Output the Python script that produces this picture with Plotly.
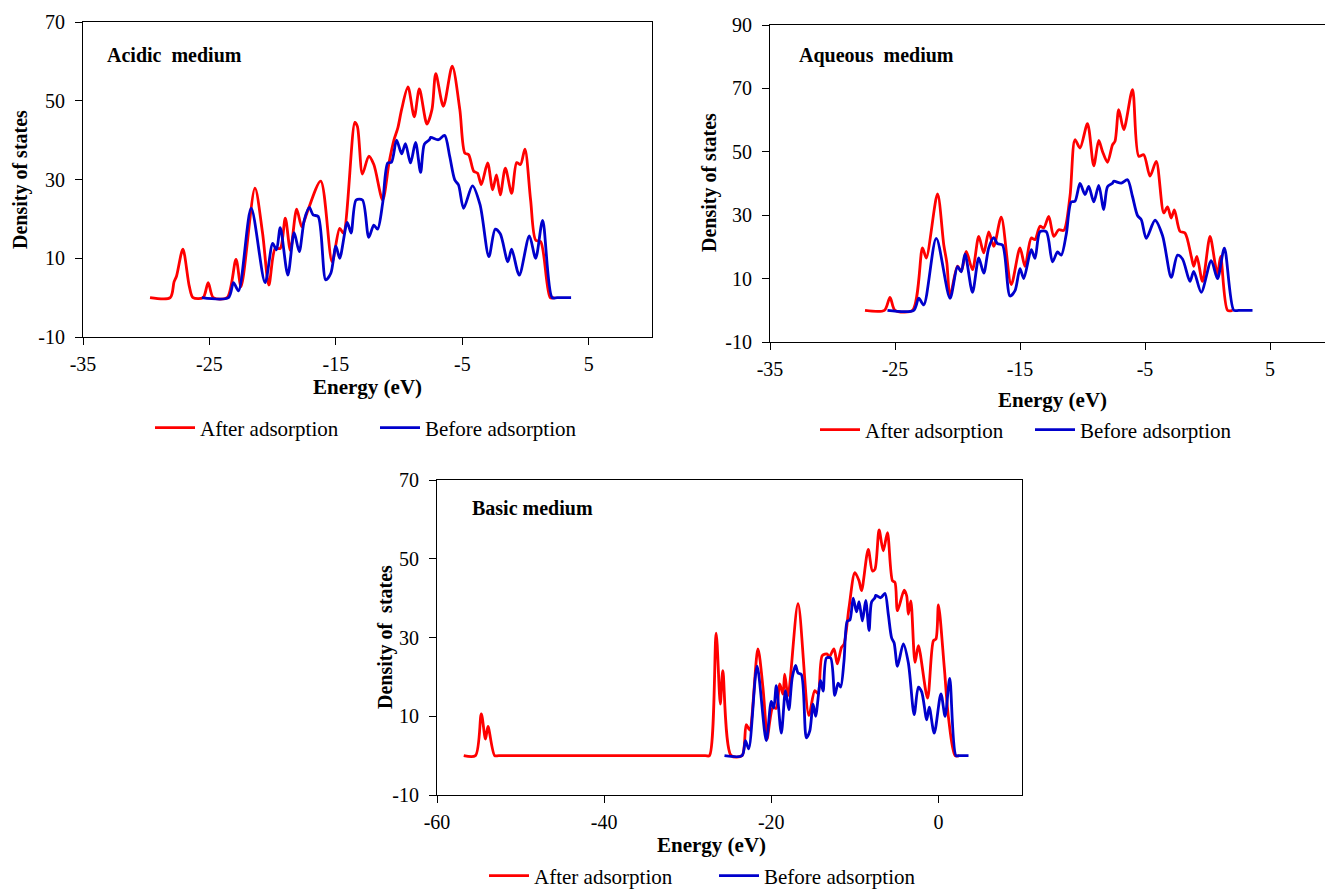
import plotly.graph_objects as go

# ---------------- data ----------------
# Before adsorption (same molecule in every panel)
before_x = [-25.6, -23.5, -23.1, -22.7, -21.7, -20.6, -20.0, -19.7, -19.4, -18.8,
            -18.3, -17.9, -17.5, -17.1, -16.8, -16.4, -15.8, -15.4, -15.0, -14.7,
            -14.1, -13.8, -13.4, -12.9, -12.4, -12.0, -11.7, -11.3, -10.9, -10.6,
            -10.2, -9.8, -9.5, -9.1, -8.7, -8.3, -8.0, -7.6, -7.5, -6.9,
            -6.4, -6.0, -5.6, -5.3, -4.9, -4.2, -3.6, -2.9, -2.4, -2.0,
            -1.4, -1.1, -0.5, 0.3, 0.8, 1.35, 2.1, 2.5, 3.6]
before_y = [0, 0, 3.8, 1.7, 22.7, 3.8, 13.8, 12.1, 17.8, 5.7,
            16.5, 11.7, 19.7, 22.9, 21.0, 20.6, 4.5, 6.2, 13.1, 10.0,
            19.1, 16.4, 24.8, 24.8, 15.3, 18.4, 17.4, 24.0, 34.2, 34.4,
            40.0, 36.5, 39.1, 34.2, 39.4, 31.8, 39.0, 40.1, 40.7, 40.1,
            41.2, 35.9, 29.9, 28.6, 22.7, 28.4, 23.6, 10.4, 17.4, 16.2,
            9.1, 12.3, 5.7, 15.7, 10.0, 19.6, 0, 0, 0]

# After adsorption - acidic medium
acid_x = [-29.7, -28.1, -27.8, -27.6, -27.1, -26.6, -26.3, -25.5, -25.1, -24.7,
          -23.6, -22.9, -22.5, -21.4, -20.8, -20.3, -19.8, -19.4, -19.0, -18.6,
          -18.1, -17.7, -17.3, -16.2, -15.3, -14.7, -14.4, -13.5, -13.3, -12.9,
          -12.4, -12.0, -11.3, -10.8, -10.4, -10.1, -9.8, -9.3, -8.8, -8.4,
          -7.8, -7.4, -7.1, -6.5, -5.8, -5.2, -4.8, -4.5, -4.1, -3.8,
          -3.5, -3.0, -2.6, -2.3, -2.0, -1.6, -1.1, -0.7, -0.4, -0.05,
          0.4, 0.8, 1.2, 1.95, 2.3]
acid_y = [0, 0, 4.0, 5.5, 12.3, 3.0, 0, 0, 3.8, 0,
          0, 9.7, 2.8, 27.8, 16.4, 3.2, 12.5, 12.5, 20.2, 12.0,
          22.5, 18.0, 21.4, 29.6, 9.1, 17.6, 16.4, 44.5, 43.5, 31.4,
          35.9, 33.8, 24.8, 34.2, 40.1, 43.1, 47.8, 53.5, 45.9, 53.0,
          44.1, 47.8, 56.9, 48.6, 58.8, 47.8, 36.7, 36.3, 32.1, 31.6,
          28.7, 34.2, 27.4, 31.2, 26.1, 32.9, 26.5, 34.3, 33.8, 37.7,
          24.8, 14.6, 14.2, 0, 0]

# After adsorption - aqueous medium
aq_x = [-27.4, -25.85, -25.4, -25.0, -23.6, -22.8, -22.5, -21.6, -21.1, -20.85,
        -20.6, -20.0, -19.7, -19.3, -18.8, -18.3, -17.9, -17.5, -17.1, -16.5,
        -15.7, -15.0, -14.6, -14.1, -13.8, -13.4, -13.1, -12.7, -12.3, -11.9,
        -11.5, -11.0, -10.6, -10.2, -9.6, -9.1, -8.7, -8.4, -8.0, -7.6,
        -7.4, -7.1, -6.7, -6.0, -5.5, -5.1, -4.6, -4.1, -3.5, -3.2,
        -2.9, -2.65, -2.2, -1.8, -1.3, -1.1, -0.85, -0.4, 0.2, 0.6,
        0.8, 1.05, 1.6, 2.0]
aq_y = [0, 0, 4.1, 0, 0, 19.7, 16.5, 36.7, 20.7, 14.9,
        4.4, 13.9, 12.3, 18.6, 12.8, 23.3, 18.1, 24.7, 20.2, 29.4,
        8.1, 19.7, 13.9, 22.8, 22.3, 26.5, 26.0, 29.6, 23.3, 25.4,
        25.2, 36.0, 53.8, 51.2, 58.9, 45.6, 53.6, 50.1, 46.7, 52.2,
        53.3, 63.3, 57.0, 69.6, 48.6, 49.1, 42.3, 47.0, 30.7, 32.6,
        29.1, 31.7, 24.9, 24.4, 17.0, 13.9, 17.0, 9.1, 23.3, 14.9,
        11.2, 17.0, 0, 0]

# After adsorption - basic medium
basic_x = [-56.8, -55.4, -54.7, -54.2, -53.9, -53.1, -52.6, -27.9, -27.4, -26.6,
           -26.1, -25.8, -24.8, -23.5, -23.0, -22.6, -21.6, -21.0, -20.6, -20.5,
           -19.8, -19.4, -19.0, -18.6, -18.4, -18.0, -16.8, -15.5, -14.8, -14.4,
           -13.9, -13.3, -13.1, -12.5, -12.1, -11.6, -11.3, -10.7, -10.0, -9.5,
           -9.2, -8.4, -7.9, -7.6, -7.1, -6.6, -6.1, -5.5, -5.2, -4.9,
           -4.1, -3.8, -3.6, -3.3, -2.8, -2.4, -1.3, -0.6, -0.3, 0.0,
           0.7, 1.2, 2.0, 2.5]
basic_y = [0, 0, 10.6, 4.2, 7.4, 0, 0, 0, 0, 31.1,
           13.1, 21.6, 0, 0, 7.9, 6.5, 27.1, 17.3, 6.3, 4.2,
           12.3, 12.0, 18.2, 15.6, 20.7, 15.2, 38.6, 10.2, 16.5, 15.8,
           25.4, 25.8, 24.9, 27.1, 23.3, 27.5, 28.3, 37.6, 46.5, 44.4,
           41.9, 52.4, 46.9, 47.3, 57.3, 52.0, 56.6, 44.4, 44.0, 36.8,
           42.0, 40.6, 35.9, 39.3, 23.7, 27.9, 14.6, 29.2, 29.6, 38.3,
           22.4, 9.7, 0, 0]

# tick values
x_ticks_top = [-35, -25, -15, -5, 5]
x_ticks_basic = [-60, -40, -20, 0]
y_ticks_70 = [-10, 10, 30, 50, 70]
y_ticks_90 = [-10, 10, 30, 50, 70, 90]

series_names = ["After adsorption", "Before adsorption"]
panel_titles = ["Acidic\u00a0 medium", "Aqueous\u00a0 medium", "Basic medium"]
y_titles = ["Density of states", "Density of states", "Density of\u00a0 states"]
x_title = "Energy (eV)"

# ---------------- styling / layout ----------------
W, H = 1325, 890
RED = "#FF0000"
BLUE = "#0000CC"
FONT = "Liberation Serif"


def px_x(p):
    return p / W


def px_y(p):
    return 1 - p / H


def lbl(v):
    return str(v)  # plain hyphen-minus like the original


panels = [
    dict(after=(acid_x, acid_y), xr=[-35, 10], xt=x_ticks_top, yr=[-10, 70], yt=y_ticks_70,
         dom_x=(83, 652), dom_y=(22, 337), leg=(150, 428), ew=170,
         ytit=(20, 180), xtit=(367, 387), lab=(105, 55)),
    dict(after=(aq_x, aq_y), xr=[-35, 9.4], xt=x_ticks_top, yr=[-10, 90], yt=y_ticks_90,
         dom_x=(770, 1325), dom_y=(25, 342), leg=(815, 430), ew=160,
         ytit=(710, 183), xtit=(1052, 400), lab=(797, 55)),
    dict(after=(basic_x, basic_y), xr=[-60, 10], xt=x_ticks_basic, yr=[-10, 70], yt=y_ticks_70,
         dom_x=(437, 1022), dom_y=(480, 795), leg=(484, 876), ew=175,
         ytit=(385, 637), xtit=(712, 845), lab=(470, 508)),
]

fig = go.Figure()
annotations = []
layout = {}
for i, p in enumerate(panels):
    k = "" if i == 0 else str(i + 1)
    legname = "legend" + k
    common = dict(showgrid=False, zeroline=False, showline=True, mirror=True,
                  linecolor="black", linewidth=1, ticks="outside", ticklen=7,
                  tickcolor="black", automargin=False, tickmode="array",
                  tickfont=dict(family=FONT, size=20, color="black"))
    layout["xaxis" + k] = dict(domain=[px_x(p["dom_x"][0]), px_x(p["dom_x"][1])],
                               range=p["xr"], tickvals=p["xt"],
                               ticktext=[lbl(v) for v in p["xt"]],
                               ticklabelstandoff=2, anchor="y" + k, **common)
    layout["yaxis" + k] = dict(domain=[px_y(p["dom_y"][1]), px_y(p["dom_y"][0])],
                               range=p["yr"], tickvals=p["yt"],
                               ticktext=[lbl(v) for v in p["yt"]],
                               ticklabelstandoff=6, anchor="x" + k, **common)
    fig.add_trace(go.Scatter(x=p["after"][0], y=p["after"][1], mode="lines",
                             name=series_names[0], xaxis="x" + k, yaxis="y" + k,
                             line=dict(color=RED, width=2.8, shape="spline", smoothing=0.8),
                             legend=legname))
    fig.add_trace(go.Scatter(x=before_x, y=before_y, mode="lines",
                             name=series_names[1], xaxis="x" + k, yaxis="y" + k,
                             line=dict(color=BLUE, width=2.8, shape="spline", smoothing=0.8),
                             legend=legname))
    layout[legname] = dict(orientation="h", x=px_x(p["leg"][0]), y=px_y(p["leg"][1]),
                           xanchor="left", yanchor="middle", bgcolor="rgba(0,0,0,0)",
                           font=dict(family=FONT, size=21, color="black"),
                           entrywidth=p["ew"], itemwidth=40, tracegroupgap=0)
    annotations.append(dict(text="<b>" + panel_titles[i] + "</b>", x=px_x(p["lab"][0]),
                            y=px_y(p["lab"][1]), xref="paper", yref="paper",
                            xanchor="left", yanchor="middle", showarrow=False,
                            font=dict(family=FONT, size=20, color="black")))
    annotations.append(dict(text="<b>" + y_titles[i] + "</b>", x=px_x(p["ytit"][0]),
                            y=px_y(p["ytit"][1]), xref="paper", yref="paper",
                            xanchor="center", yanchor="middle", textangle=-90,
                            showarrow=False,
                            font=dict(family=FONT, size=20, color="black")))
    annotations.append(dict(text="<b>" + x_title + "</b>", x=px_x(p["xtit"][0]),
                            y=px_y(p["xtit"][1]), xref="paper", yref="paper",
                            xanchor="center", yanchor="middle", showarrow=False,
                            font=dict(family=FONT, size=21, color="black")))

fig.update_layout(width=W, height=H, margin=dict(l=0, r=0, t=0, b=0, autoexpand=False),
                  paper_bgcolor="white", plot_bgcolor="white",
                  annotations=annotations, **layout)
fig.write_html("out.html")
